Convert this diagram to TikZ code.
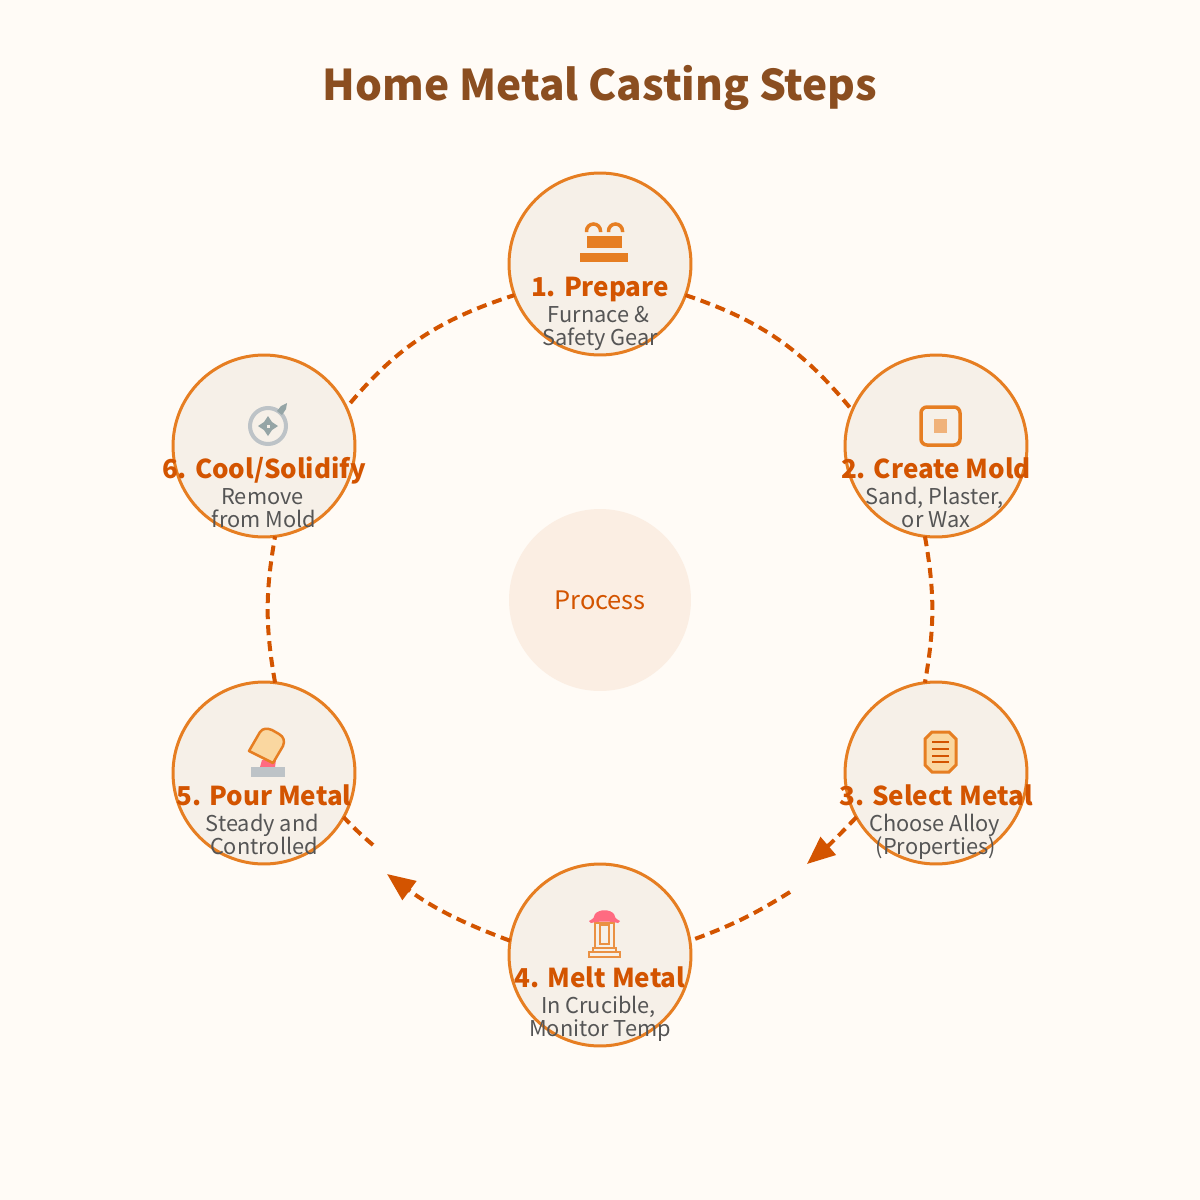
\documentclass[tikz,border=0pt]{standalone}
\usepackage{xcolor}
\usepackage{fontspec}
\setmainfont{Noto Sans CJK SC}
\usetikzlibrary{arrows.meta}
\definecolor{PageCream}{HTML}{FFFBF6}
\definecolor{TitleBrown}{HTML}{8B4E20}
\definecolor{BurntOrange}{HTML}{D35400}
\definecolor{RingOrange}{HTML}{E67E22}
\definecolor{StepFill}{HTML}{F6F0E8}
\definecolor{HubFill}{HTML}{FBEEE3}
\definecolor{DescGrey}{HTML}{555555}
\definecolor{PaleOrange}{HTML}{F0B27A}
\definecolor{Sand}{HTML}{FAD7A0}
\definecolor{RosePink}{HTML}{FF6B81}
\definecolor{SteelGrey}{HTML}{BDC3C7}
\definecolor{SlateGrey}{HTML}{95A5A6}
\tikzset{
    stepcircle/.style={circle, draw=RingOrange, fill=StepFill, line width=0.06cm, minimum size=3.64cm, inner sep=0pt, outer sep=0pt},
    hubcircle/.style={circle, fill=HubFill, minimum size=3.64cm, inner sep=0pt, outer sep=0pt},
    maintitle/.style={text=TitleBrown, font=\fontsize{24.1}{28}\selectfont\bfseries, inner sep=0pt, anchor=base},
    steptitle/.style={text=BurntOrange, font=\fontsize{14.8}{18}\selectfont\bfseries, inner sep=0pt, anchor=base},
    stepdesc/.style={text=DescGrey, font=\fontsize{12.4}{15}\selectfont, inner sep=0pt, anchor=base},
    hublabel/.style={text=BurntOrange, font=\fontsize{14.5}{17}\selectfont, inner sep=0pt, anchor=base},
    link/.style={draw=BurntOrange, line width=0.08cm, dash pattern=on 0.2cm off 0.12cm},
    linktip/.style={-{Triangle[length=0.56cm,width=0.46cm]}},
    iconline/.style={draw=RingOrange, line width=0.07cm},
    iconthin/.style={draw=RingOrange!85!white, line width=0.05cm},
}
\begin{document}
\begin{tikzpicture}[x=0.02cm, y=-0.02cm]
    \useasboundingbox[fill=PageCream] (0,0) rectangle (1200,1200);
    \node[maintitle] (title) at (600,100) {Home Metal Casting Steps};
    \node[hubcircle] (hub) at (600,600) {};
    \node[hublabel] (hubtext) at (600,609) {Process};
    \foreach \name/\x/\y/\head/\lineone/\linetwo in {
        s1/600/264/{1. Prepare}/{Furnace \&}/{Safety Gear},
        s2/936/446/{2. Create Mold}/{Sand, Plaster,}/{or Wax},
        s3/936/773/{3. Select Metal}/{Choose Alloy}/{(Properties)},
        s4/600/955/{4. Melt Metal}/{In Crucible,}/{Monitor Temp},
        s5/264/773/{5. Pour Metal}/{Steady and}/{Controlled},
        s6/264/446/{6. Cool/Solidify}/{Remove}/{from Mold}}{
        \node[stepcircle] (\name) at (\x,\y) {};
        \node[steptitle] (\name head) at (\x,\y+32) {\head};
        \node[stepdesc] (\name one) at (\x-1.5,\y+58) {\lineone};
        \node[stepdesc] (\name two) at (\x,\y+81) {\linetwo};
    }
    \coordinate (tip3) at (807,864);
    \coordinate (gap3) at (790,892);
    \coordinate (tip4) at (387,874);
    \coordinate (gap5) at (373,845);
    \draw[link] (s1.-20) to[bend left=16] (s2.157);
    \draw[link] (s2.-97) to[bend left=10] (s3.97);
    \draw[link, linktip] (s3.-151) to[bend left=3] (tip3);
    \draw[link] (gap3) to[bend left=6] (s4.9);
    \draw[link, linktip] (s4.171) to[bend left=8] (tip4);
    \draw[link] (gap5) to[bend left=3] (s5.-29);
    \draw[link] (s5.83) to[bend left=10] (s6.-83);
    \draw[link, shorten <=0.12cm] (s6.25) to[bend left=16] (s1.200);
    \draw[iconline] (586.5,232) -- (586.5,231) arc (180:360:7) -- (600.5,232);
    \draw[iconline] (608.5,232) -- (608.5,231) arc (180:360:7) -- (622.5,232);
    \fill[RingOrange] (587,236) rectangle (622,248);
    \fill[RingOrange] (580,253) rectangle (628,262);
    \draw[iconline, rounded corners=0.12cm, fill=StepFill] (921,407) rectangle (960,445);
    \fill[PaleOrange] (934,419) rectangle (947,433);
    \draw[iconline, fill=Sand, line width=0.06cm] (932,732) -- (949,732) -- (956,739) -- (956,765) -- (949,772) -- (932,772) -- (925,765) -- (925,739) -- cycle;
    \foreach \liney in {742,749,756,762}{
        \draw[BurntOrange, line width=0.04cm] (932,\liney) -- (949,\liney);
    }
    \draw[iconthin] (595,923) rectangle (614,948);
    \draw[iconthin] (600,925) rectangle (609,944);
    \draw[iconthin] (593,948) rectangle (616,952);
    \draw[iconthin] (589,952) rectangle (620,957);
    \fill[RosePink] (589,921) .. controls (593,919) and (595,917) .. (595,914) .. controls (599,909) and (610,909) .. (614,914) .. controls (614,917) and (616,919) .. (620,921) -- (618,923) .. controls (610,921) and (599,921) .. (591,923) -- cycle;
    \fill[RosePink] (262,760) -- (276,760) -- (275,767) -- (260,767) -- cycle;
    \fill[SteelGrey] (251,767) rectangle (285,777);
    \draw[draw=RingOrange, line width=0.05cm, fill=Sand, line join=round] (249,751) -- (260,732) .. controls (263,728) and (267,728) .. (272,730) -- (279,734) .. controls (284,737) and (285,741) .. (283,746) -- (273,763) -- cycle;
    \draw[SteelGrey, line width=0.08cm] (268,426) circle (18);
    \fill[SlateGrey] (268,416) -- (272,422) -- (278,426) -- (272,430) -- (268,436) -- (264,430) -- (258,426) -- (264,422) -- cycle;
    \fill[StepFill] (266.5,424.5) rectangle (269.5,427.5);
    \fill[SlateGrey] (277,411) -- (281,406) -- (287,403) -- (286,409) -- (282,415) -- cycle;
\end{tikzpicture}
\end{document}
